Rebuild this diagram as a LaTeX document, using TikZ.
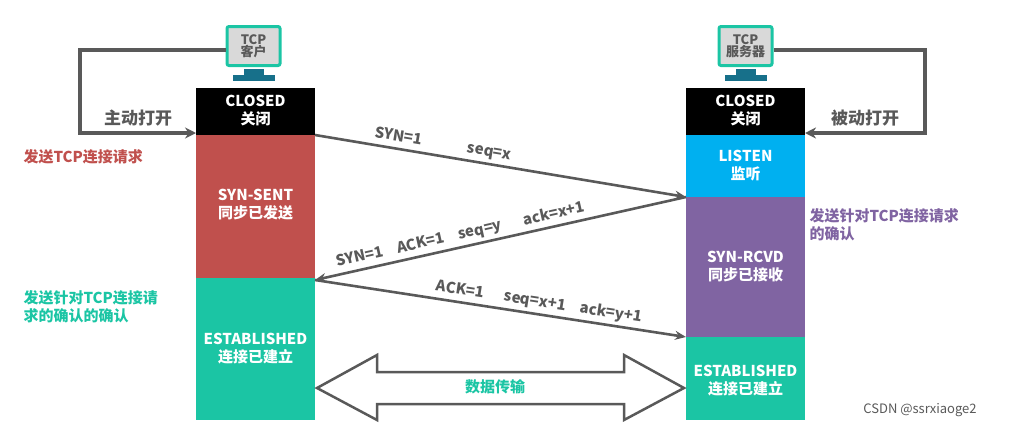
\documentclass[tikz,border=0pt]{standalone}
\usepackage{fontspec}
\setmainfont{Noto Sans CJK SC}
\usetikzlibrary{arrows.meta}
\definecolor{cred}{HTML}{C0504D}
\definecolor{cteal}{HTML}{1BC5A4}
\definecolor{cblue}{HTML}{00B0F0}
\definecolor{cpurple}{HTML}{8064A2}
\definecolor{cgray}{HTML}{595959}
\definecolor{cstand}{HTML}{17708A}
\begin{document}
\begin{tikzpicture}[x=1pt,y=-1pt,
  st/.style={text=white,font=\bfseries\fontsize{15}{18}\selectfont,align=center},
  lab/.style={font=\bfseries\fontsize{15}{18}\selectfont,align=left},
  msg/.style={draw=cgray,line width=2.6pt,-{Stealth[length=11pt,width=9pt]}},
  mtxt/.style={text=cgray,font=\itshape\bfseries\fontsize{15}{17}\selectfont,sloped,above}]
\useasboundingbox (0,0) rectangle (1014,429);
% states
\fill (196,88) rectangle (315,135);
\fill[cred] (196,135) rectangle (315,278);
\fill[cteal] (196,278) rectangle (315,420);
\fill (686,88) rectangle (805,135);
\fill[cblue] (686,135) rectangle (805,197);
\fill[cpurple] (686,197) rectangle (805,337);
\fill[cteal] (686,337) rectangle (805,420);
\node[st] (c1) at (255.5,111) {CLOSED\\关闭};
\node[st] (ss) at (255.5,205) {SYN-SENT\\同步已发送};
\node[st] (e1) at (255.5,349) {ESTABLISHED\\连接已建立};
\node[st] (c2) at (745.5,111) {CLOSED\\关闭};
\node[st] (li) at (745.5,166) {LISTEN\\监听};
\node[st] (sr) at (745.5,267) {SYN-RCVD\\同步已接收};
\node[st] (e2) at (745.5,381) {ESTABLISHED\\连接已建立};
% computers
\foreach \cx/\t [count=\i] in {253.5/客户,745.5/服务器}{
  \fill[cstand] (\cx-10,69) rectangle (\cx+10,75);
  \fill[cstand] (\cx-21,75) rectangle (\cx+21,81);
  \node[draw=cteal,line width=3pt,fill=gray!30,rounded corners=2pt,minimum width=53pt,minimum height=39pt,inner sep=1pt,
    text=cgray,font=\bfseries\fontsize{13}{13}\selectfont,align=center] (pc\i) at (\cx,46) {TCP\\[-1pt]\t};
}
\coordinate (l1) at (80,50); \coordinate (l2) at (80,133);
\coordinate (r1) at (925,50); \coordinate (r2) at (925,133);
\draw[cgray,line width=3.2pt,-{Stealth[length=11pt,width=11pt]}] (pc1.west |- l1) -- (l1) -- (l2) -- (196,133);
\draw[cgray,line width=3.2pt,-{Stealth[length=11pt,width=11pt]}] (pc2.east |- r1) -- (r1) -- (r2) -- (805,133);
\node[lab,text=cgray,font=\bfseries\fontsize{17}{19}\selectfont] (zd) at (138,118) {主动打开};
\node[lab,text=cgray,font=\bfseries\fontsize{17}{19}\selectfont] (bd) at (865,118) {被动打开};
\node[lab,text=cred,anchor=west] (t1) at (20,157) {发送TCP连接请求};
\node[lab,text=cpurple,anchor=west] (t2) at (806,225) {发送针对TCP连接请求\\的确认};
\node[lab,text=cteal,anchor=west] (t3) at (20,307) {发送针对TCP连接请\\求的确认的确认};
% messages
\coordinate (a1) at (315,135); \coordinate (b1) at (686,197);
\coordinate (a2) at (315,280); \coordinate (b2) at (686,337);
\draw[msg] (a1) -- (b1) node[mtxt,pos=0.34] {SYN=1\hspace{46pt}seq=x};
\draw[msg] (b1) -- (a2) node[mtxt,pos=0.6] {SYN=1\hspace{14pt}ACK=1\hspace{14pt}seq=y\hspace{22pt}ack=x+1};
\draw[msg] (a2) -- (b2) node[mtxt,pos=0.6] {ACK=1\hspace{20pt}seq=x+1\hspace{14pt}ack=y+1};
% data
\draw[cgray,line width=2.5pt,line join=miter] (317,388) -- (377,355) -- (377,372) -- (624,372) -- (624,355) -- (684,388)
  -- (624,420) -- (624,404) -- (377,404) -- (377,420) -- cycle;
\node[lab,text=cteal] (dt) at (495,387) {数据传输};
\node[text=cgray,font=\fontsize{13}{15}\selectfont] (wm) at (920,410) {CSDN @ssrxiaoge2};
\end{tikzpicture}
\end{document}
